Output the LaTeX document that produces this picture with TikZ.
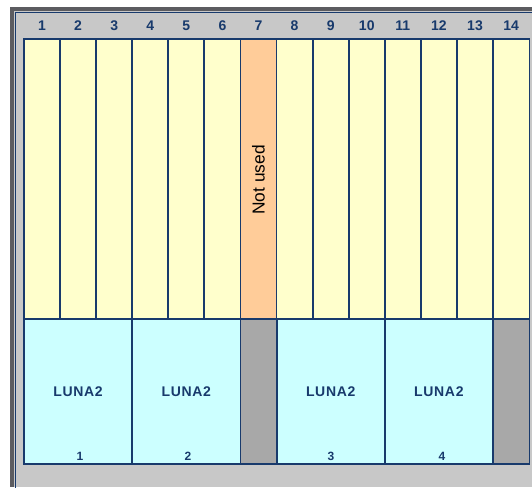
\documentclass[tikz,border=0pt]{standalone}
\usepackage{fontspec}
\setmainfont{Liberation Sans}
\definecolor{navy}{RGB}{24,58,108}
\definecolor{darkframe}{RGB}{92,92,96}
\definecolor{lightframe}{RGB}{200,200,200}
\definecolor{slotyellow}{RGB}{255,255,204}
\definecolor{slotorange}{RGB}{255,204,153}
\definecolor{lunacyan}{RGB}{204,255,255}
\definecolor{slotgray}{RGB}{168,168,168}
\newcommand{\lunatext}{L\kern0.5pt U\kern0.5pt N\kern0.5pt A\kern0.5pt 2}
\tikzset{
  sep/.style={draw=navy, line width=1.4pt},
  hdr/.style={font=\fontsize{10.5}{12}\selectfont\bfseries, text=navy, inner sep=0pt},
  lunalbl/.style={font=\fontsize{10.5}{12}\selectfont\bfseries, text=navy, inner sep=0pt},
  lunanum/.style={font=\fontsize{9}{10}\selectfont\bfseries, text=navy, inner sep=0pt},
}
\begin{document}
\begin{tikzpicture}[x=0.75pt,y=-0.75pt]
\useasboundingbox (0,0) rectangle (532,487);
\clip (0,0) rectangle (532,487);
\fill[white] (0,0) rectangle (532,487);
\fill[darkframe] (10,7) rectangle (532,487);
\fill[lightframe] (14,11) rectangle (532,487);
\draw[navy, line width=1pt] (15.5,12.5) rectangle (545,500);
% upper slot area
\def\cw{36.08}
\foreach \i in {1,...,14}{
  \pgfmathsetmacro{\xa}{24+(\i-1)*\cw}
  \pgfmathsetmacro{\xb}{24+\i*\cw}
  \pgfmathsetmacro{\xc}{24+(\i-0.5)*\cw}
  \ifnum\i=7
    \fill[slotorange] (\xa,39) rectangle (\xb,319);
  \else
    \fill[slotyellow] (\xa,39) rectangle (\xb,319);
  \fi
  \node[hdr] (h\i) at (\xc,26) {\i};
}
% lower area
\fill[lunacyan] (24,319) rectangle (240.5,464);
\fill[lunacyan] (276.6,319) rectangle (493,464);
\fill[slotgray] (240.5,319) rectangle (276.6,464);
\fill[slotgray] (493,319) rectangle (529.5,464);
% vertical separators in upper area
\foreach \i in {1,...,13}{
  \pgfmathsetmacro{\xa}{24+\i*\cw}
  \draw[sep] (\xa,39) -- (\xa,319);
}
% lower separators
\foreach \xx in {132.2,240.5,276.6,384.8,493}{
  \draw[sep] (\xx,319) -- (\xx,464);
}
\draw[sep] (24,319) -- (529.5,319);
\draw[sep] (24,39) rectangle (529.5,464);
% texts
\node[font=\fontsize{13}{15}\selectfont, rotate=90, inner sep=0pt] (nu) at (258.5,180) {Not used};
\node[lunalbl] (l1) at (78,392) {\lunatext};
\node[lunalbl] (l2) at (186.3,392) {\lunatext};
\node[lunalbl] (l3) at (330.7,392) {\lunatext};
\node[lunalbl] (l4) at (438.9,392) {\lunatext};
\node[lunanum] (n1) at (80,456) {1};
\node[lunanum] (n2) at (188,456) {2};
\node[lunanum] (n3) at (331,456) {3};
\node[lunanum] (n4) at (442,456) {4};
\end{tikzpicture}
\end{document}
